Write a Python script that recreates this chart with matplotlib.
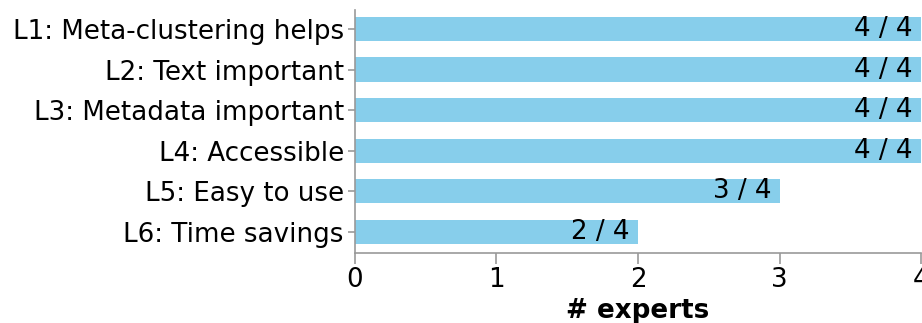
import matplotlib
matplotlib.use("Agg")
import matplotlib.pyplot as plt

categories = ["L1: Meta-clustering helps", "L2: Text important", "L3: Metadata important",
              "L4: Accessible", "L5: Easy to use", "L6: Time savings"]
values = [4, 4, 4, 4, 3, 2]
total = 4
xticks = [0, 1, 2, 3, 4]

FS = 18.8
plt.rcParams['font.family'] = ['DejaVu Sans']
fig = plt.figure(figsize=(9.22, 3.23), dpi=100)
ax = fig.add_axes([0.385, 0.217, 0.614, 0.752])

y = list(range(len(categories)))
ax.barh(y, values, height=0.6, color="#87CEEB")
for yi, v in zip(y, values):
    ax.annotate(f"{v} / {total}", xy=(v, yi), xytext=(-6, 0), textcoords="offset points",
                ha="right", va="center", fontsize=FS, color="#000000")

ax.set_yticks(y)
ax.set_yticklabels(categories, fontsize=FS)
ax.set_xticks(xticks)
ax.set_xticklabels([str(t) for t in xticks], fontsize=FS)
ax.set_xlim(0, total)
ax.set_ylim(5.52, -0.47)
ax.set_xlabel("# experts", fontsize=FS, fontweight="bold", labelpad=4)

for s in ["top", "right"]:
    ax.spines[s].set_visible(False)
for s in ["left", "bottom"]:
    ax.spines[s].set_color("#999999")
    ax.spines[s].set_linewidth(1.2)
ax.tick_params(axis="x", colors="#999999", labelcolor="#000000", length=8, width=1.2, pad=2)
ax.tick_params(axis="y", colors="#999999", labelcolor="#000000", length=5, width=1.2, pad=3)

fig.savefig("out.png", dpi=100)
